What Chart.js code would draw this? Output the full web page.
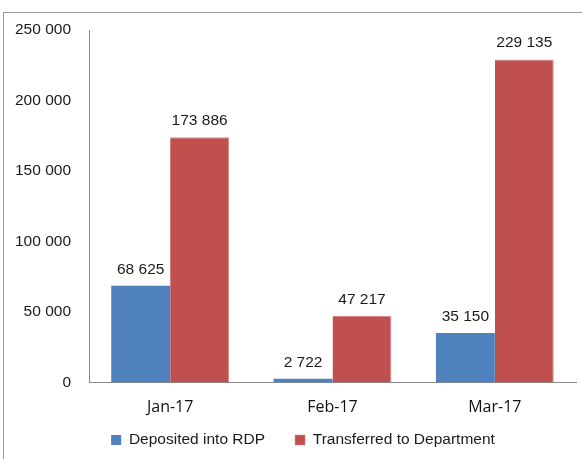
<!DOCTYPE html>
<html>
<head>
<meta charset="utf-8">
<script src="https://cdn.jsdelivr.net/npm/chart.js@4"></script>
<style>
  html, body { margin: 0; padding: 0; background: #fff; }
  #wrap { position: relative; width: 582px; height: 459px; overflow: hidden; }
  #frame { position: absolute; left: 3px; top: 12px; right: -5px; bottom: -5px;
           border-left: 1px solid #9a9a9a; border-top: 1px solid #9a9a9a; }
  canvas { position: absolute; left: 0; top: 0; }
</style>
</head>
<body>
<div id="wrap">
  <div id="frame"></div>
  <canvas id="c" width="582" height="459"></canvas>
</div>
<script>
const categories = ["Jan-17", "Feb-17", "Mar-17"];
const seriesNames = ["Deposited into RDP", "Transferred to Department"];
const depositedIntoRDP = [68625, 2722, 35150];
const transferredToDepartment = [173886, 47217, 229135];
const yTicks = [0, 50000, 100000, 150000, 200000, 250000];

const ARIAL = "'Liberation Sans', Arial, sans-serif";
const FS = 15.5;
const LEGEND_PAD = 30;

function fmt(v) {
  return String(Math.round(v)).replace(/\B(?=(\d{3})+(?!\d))/g, " ");
}

const valueLabels = {
  id: "valueLabels",
  afterDatasetsDraw(chart) {
    const ctx = chart.ctx;
    ctx.save();
    ctx.font = FS + "px " + ARIAL;
    ctx.fillStyle = "#1a1a1a";
    ctx.textAlign = "center";
    ctx.textBaseline = "alphabetic";
    chart.data.datasets.forEach((ds, i) => {
      const meta = chart.getDatasetMeta(i);
      meta.data.forEach((bar, j) => {
        ctx.fillText(fmt(ds.data[j]), bar.x, bar.y - 12);
      });
    });
    ctx.restore();
  }
};

// nudge the legend box so it sits where the reference legend sits
const legendPlacement = {
  id: "legendPlacement",
  afterLayout(chart) {
    const lg = chart.legend;
    if (!lg) return;
    const dy = (440 - (LEGEND_PAD + FS / 2)) - lg.top;
    lg.top += dy; lg.bottom += dy;
    lg.left += 15; lg.right += 15;
  }
};

new Chart(document.getElementById("c"), {
  type: "bar",
  data: {
    labels: categories,
    datasets: [
      { label: seriesNames[0], data: depositedIntoRDP, backgroundColor: "#4F81BD",
        borderWidth: 0 },
      { label: seriesNames[1], data: transferredToDepartment, backgroundColor: "#C0504D",
        borderColor: "#D88A88", borderWidth: { left: 0, right: 1, top: 1, bottom: 0 } }
    ]
  },
  options: {
    responsive: false,
    animation: false,
    devicePixelRatio: 1,
    layout: { padding: { left: 0, right: 6, top: 30, bottom: -17 } },
    datasets: { bar: { categoryPercentage: 0.726, barPercentage: 1.0 } },
    scales: {
      x: {
        grid: { display: false, drawTicks: false },
        border: { display: true, color: "#8c8c8c", width: 1 },
        ticks: { color: "#111", padding: 15,
                 font: { family: "'Open Sans', sans-serif", size: 16 } },
        afterFit(s) { s.height = 38; }
      },
      y: {
        min: 0, max: 250000,
        afterBuildTicks(s) { s.ticks = yTicks.map(v => ({ value: v })); },
        grid: { display: false, drawTicks: false },
        border: { display: true, color: "#8c8c8c", width: 1 },
        ticks: { color: "#1a1a1a", padding: 18, callback: v => fmt(v),
                 font: { family: ARIAL, size: FS } },
        afterFit(s) { s.width = 89; }
      }
    },
    plugins: {
      legend: {
        position: "bottom",
        labels: {
          boxWidth: 10, boxHeight: 10, padding: LEGEND_PAD, color: "#1a1a1a",
          font: { family: ARIAL, size: FS }
        }
      },
      tooltip: { enabled: false },
      title: { display: false }
    }
  },
  plugins: [valueLabels, legendPlacement]
});
</script>
</body>
</html>
